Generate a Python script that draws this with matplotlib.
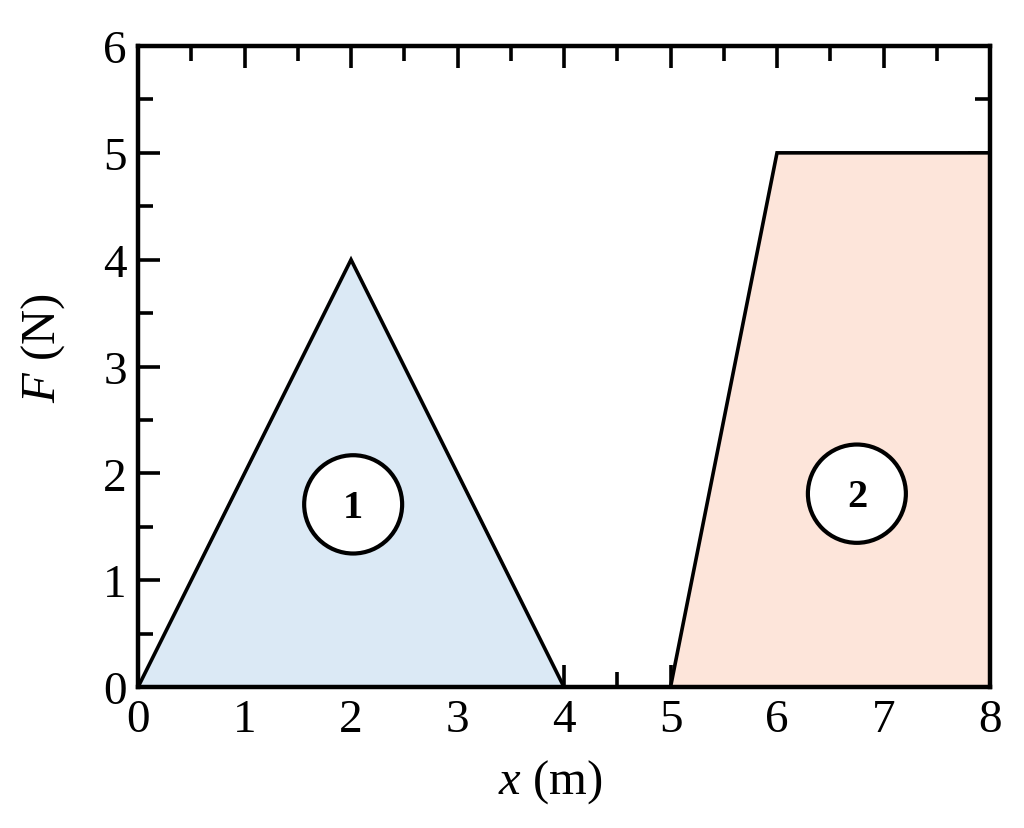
import numpy as np
from matplotlib import pyplot as plt
from matplotlib.patches import Circle
from matplotlib.ticker import MultipleLocator

plt.rcParams['font.family'] = ['Liberation Serif', 'DejaVu Serif']
plt.rcParams['mathtext.fontset'] = 'custom'
plt.rcParams['mathtext.rm'] = 'Liberation Serif'
plt.rcParams['mathtext.it'] = 'Liberation Serif:italic'

# region 1: triangle, region 2: trapezoid
x1 = [0, 2, 4]
F1 = [0, 4, 0]
x2 = [5, 6, 8]
F2 = [0, 5, 5]
labels = ['1', '2']
label_x = [2.02, 6.75]
label_y = [1.71, 1.81]


def main():
    fig = plt.figure(figsize=(10.24, 8.29), dpi=100)
    ax = fig.add_axes([0.1348, 0.170, 0.832, 0.7733])

    ax.fill_between(x1, F1, 0, color='#dbe9f5', lw=0, zorder=1)
    ax.fill_between(x2 + [8], F2 + [5], 0, color='#fde5da', lw=0, zorder=1)
    ax.plot(x1, F1, color='black', lw=2.6, zorder=3, solid_joinstyle='miter')
    ax.plot(x2, F2, color='black', lw=2.6, zorder=3, solid_joinstyle='miter')

    for t, cx, cy in zip(labels, label_x, label_y):
        ax.add_patch(Circle((cx, cy), 0.46, facecolor='white', edgecolor='black',
                            lw=3, zorder=4))
        ax.text(cx, cy - 0.03, t, ha='center', va='center', fontsize=29,
                fontweight='bold', zorder=5)

    ax.set_xlim(0, 8)
    ax.set_ylim(0, 6)
    ax.xaxis.set_major_locator(MultipleLocator(1))
    ax.xaxis.set_minor_locator(MultipleLocator(0.5))
    ax.yaxis.set_major_locator(MultipleLocator(1))
    ax.yaxis.set_minor_locator(MultipleLocator(0.5))
    ax.tick_params(which='both', direction='in', top=True, right=True,
                   width=2.6, labelsize=34)
    ax.tick_params(which='major', length=16, pad=8)
    ax.tick_params(which='minor', length=11)
    ax.set_axisbelow(True)
    for s in ax.spines.values():
        s.set_linewidth(3.2)
        s.set_zorder(3)

    ax.set_xlabel('$x$ (m)', fontsize=35, labelpad=12)
    ax.set_ylabel('$F$ (N)', fontsize=35, labelpad=26)
    ax.xaxis.label.set_x(0.484)
    ax.yaxis.label.set_y(0.53)

    fig.savefig('out.png', dpi=100)


if __name__ == '__main__':
    main()
